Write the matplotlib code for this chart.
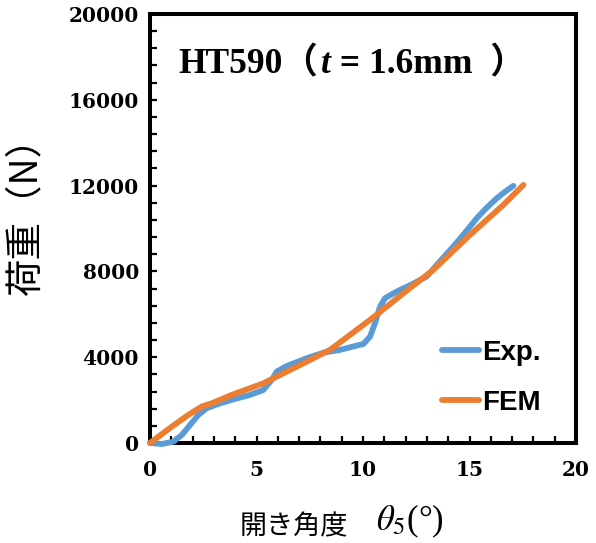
import numpy as np
import matplotlib
matplotlib.use("Agg")
import matplotlib.pyplot as plt
from matplotlib.ticker import MultipleLocator

# data
exp_x = [0, 0.55, 1.09, 1.49, 1.88, 2.27, 2.66, 3.21, 3.8, 4.69, 5.32, 5.71, 5.95, 6.42,
         7.35, 8.14, 8.92, 9.39, 10.02, 10.33, 10.56, 10.8, 11.03, 11.58, 12.3, 12.99,
         13.46, 14.24, 14.8, 15.34, 15.8, 16.28, 16.7, 17.06]
exp_y = [0, -50, 60, 370, 840, 1310, 1620, 1820, 2000, 2240, 2470, 2940, 3330, 3590,
         3950, 4210, 4340, 4460, 4620, 4960, 5580, 6360, 6750, 7060, 7400, 7760,
         8300, 9160, 9820, 10480, 10960, 11410, 11740, 11990]
fem_x = [0, 1.02, 1.8, 2.43, 2.9, 3.83, 5.32, 6.89, 8.45, 10.33, 12.2, 13.3, 15.02, 16.59, 17.53]
fem_y = [0, 760, 1310, 1700, 1850, 2240, 2780, 3560, 4340, 5740, 7220, 8070, 9700, 11100, 12030]
series_labels = ["Exp.", "FEM"]
x_ticks = [0, 5, 10, 15, 20]
y_ticks = [0, 4000, 8000, 12000, 16000, 20000]

fig = plt.figure(figsize=(5.96, 5.43), dpi=100)
ax = fig.add_axes([0.2517, 0.1842, 0.7148, 0.790])

ax.plot(exp_x, exp_y, color="#5B9BD5", lw=4.2, solid_capstyle="round",
        solid_joinstyle="round", label=series_labels[0], clip_on=False, zorder=3)
ax.plot(fem_x, fem_y, color="#ED7D31", lw=4.2, solid_capstyle="round",
        solid_joinstyle="round", label=series_labels[1], clip_on=False, zorder=4)

ax.set_xlim(0, 20)
ax.set_ylim(0, 20000)
ax.set_xticks(x_ticks)
ax.set_yticks(y_ticks)
ax.xaxis.set_minor_locator(MultipleLocator(1))
ax.yaxis.set_minor_locator(MultipleLocator(800))
ax.tick_params(which="both", direction="in", length=5, width=1.6, top=False, right=False)
ax.tick_params(axis="x", which="major", pad=12)
ax.tick_params(axis="y", which="major", pad=8)

for lab in ax.get_xticklabels() + ax.get_yticklabels():
    lab.set_fontfamily("DejaVu Serif")
    lab.set_fontweight("bold")
    lab.set_fontsize(14.5)

for s in ax.spines.values():
    s.set_linewidth(2.9)

# title in pieces so the italic t and the full-width brackets both render
tfam = ["Liberation Serif", "Noto Sans CJK JP"]
t1 = ax.text(0.066, 0.862, "HT590（", transform=ax.transAxes, fontsize=25.5,
             fontweight="bold", va="baseline", ha="left", family=tfam)
t2 = ax.annotate("t", xy=(1, 0), xycoords=t1, xytext=(2, 0), textcoords="offset points",
                 fontsize=25.5, fontweight="bold", fontstyle="italic", va="bottom",
                 ha="left", family=tfam)
ax.annotate(" = 1.6mm  ）", xy=(1, 0), xycoords=t2, fontsize=25.5, fontweight="bold",
            va="bottom", ha="left", family=tfam)

ax.set_ylabel("荷重（N）", family=["Noto Sans CJK JP", "DejaVu Sans"], fontsize=27)
ax.yaxis.set_label_coords(-0.246, 0.552)

# x label: Japanese part, then a larger math part
x1 = fig.text(240 / 596, 0.016, "開き角度", family=["Noto Sans CJK JP", "DejaVu Sans"],
              fontsize=19.5, ha="left", va="baseline")
fig.canvas.draw()
ax.annotate(r"$\theta_5$(°)", xy=(1, 0), xycoords=x1, xytext=(20, 0),
            textcoords="offset points", fontsize=25, math_fontfamily="stix",
            family=["Liberation Serif", "DejaVu Sans"], ha="left", va="bottom",
            annotation_clip=False)

leg = ax.legend(loc="upper left", bbox_to_anchor=(0.685, 0.24), frameon=False,
                borderpad=0, borderaxespad=0, handlelength=1.35, handletextpad=0.1,
                labelspacing=0.85, prop={"family": "Liberation Sans", "weight": "bold", "size": 20})

fig.savefig("out.png", dpi=100)
